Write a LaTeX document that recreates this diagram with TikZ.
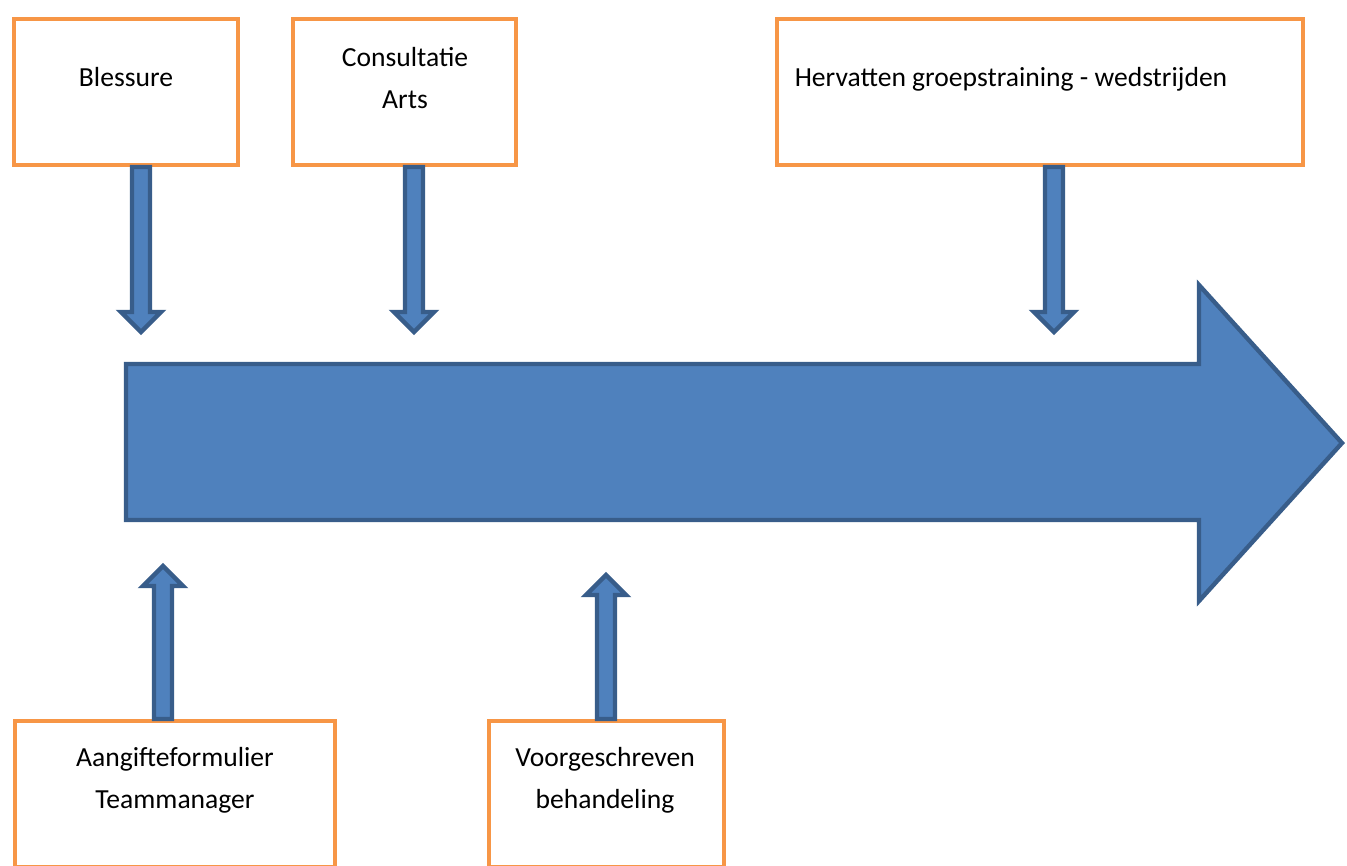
\documentclass[tikz,border=0pt]{standalone}
\usepackage{fontspec}
\setmainfont{Carlito}
\usetikzlibrary{positioning, calc}

\definecolor{boxorange}{HTML}{F79646}
\definecolor{arrowfill}{HTML}{4F81BD}
\definecolor{arrowline}{HTML}{385D8A}

\tikzset{
  stepbox/.style={draw=boxorange, line width=2.3pt, fill=white, rectangle,
    minimum height=2.92cm, inner sep=0pt},
  boxtext/.style={align=center, inner sep=0pt, font=\fontsize{15.7}{23.8}\selectfont},
  blockarrow/.style={draw=arrowline, fill=arrowfill, line width=2.5pt, line join=miter},
}

% block arrow from a box to a named tip
\newcommand{\arrowdown}[2]{%
  \path[blockarrow] let \p1=(#1), \p2=(#2) in
    (\x2-0.18cm,\y1) -- (\x2+0.18cm,\y1) -- (\x2+0.18cm,\y2+0.4cm)
    -- (\x2+0.4cm,\y2+0.4cm) -- (\x2,\y2) -- (\x2-0.4cm,\y2+0.4cm)
    -- (\x2-0.18cm,\y2+0.4cm) -- cycle;}
\newcommand{\arrowup}[2]{%
  \path[blockarrow] let \p1=(#1), \p2=(#2) in
    (\x2-0.18cm,\y1) -- (\x2+0.18cm,\y1) -- (\x2+0.18cm,\y2-0.4cm)
    -- (\x2+0.4cm,\y2-0.4cm) -- (\x2,\y2) -- (\x2-0.4cm,\y2-0.4cm)
    -- (\x2-0.18cm,\y2-0.4cm) -- cycle;}

\begin{document}
\begin{tikzpicture}[x=0.02cm, y=-0.02cm]
  \useasboundingbox (0,0) rectangle (1347,866);

  % tijdlijn
  \path[blockarrow] (126,364) -- (1199,364) -- (1199,285) -- (1342,443)
    -- (1199,601) -- (1199,520) -- (126,520) -- cycle;

  % bovenste vakken
  \node[stepbox, minimum width=4.48cm] (blessure) at (126,92) {};
  \node[stepbox, minimum width=4.46cm] (consult) at (404.5,92) {};
  \node[stepbox, minimum width=10.52cm] (hervat) at (1040,92) {};
  \node[boxtext] (blessure-t) at (126,77) {Blessure};
  \node[boxtext] (consult-t) at (405,78) {Consultatie\\Arts};
  \node[boxtext] (hervat-t) at (1011,79) {Hervatten groepstraining - wedstrijden};

  % onderste vakken
  \node[stepbox, minimum width=6.4cm] (aangifte) at (175,794) {};
  \node[stepbox, minimum width=4.7cm] (voorg) at (606.5,794) {};
  \node[boxtext] (aangifte-t) at (175,780) {Aangifteformulier\\Teammanager};
  \node[boxtext] (voorg-t) at (605,780) {Voorgeschreven\\behandeling};

  % punten van de pijlen
  \coordinate (tip1) at (141,332);
  \coordinate (tip2) at (414,332);
  \coordinate (tip3) at (1054,332);
  \coordinate (tip4) at (163,566);
  \coordinate (tip5) at (606,575);

  \arrowdown{blessure.south}{tip1}
  \arrowdown{consult.south}{tip2}
  \arrowdown{hervat.south}{tip3}
  \arrowup{aangifte.north}{tip4}
  \arrowup{voorg.north}{tip5}
\end{tikzpicture}
\end{document}
